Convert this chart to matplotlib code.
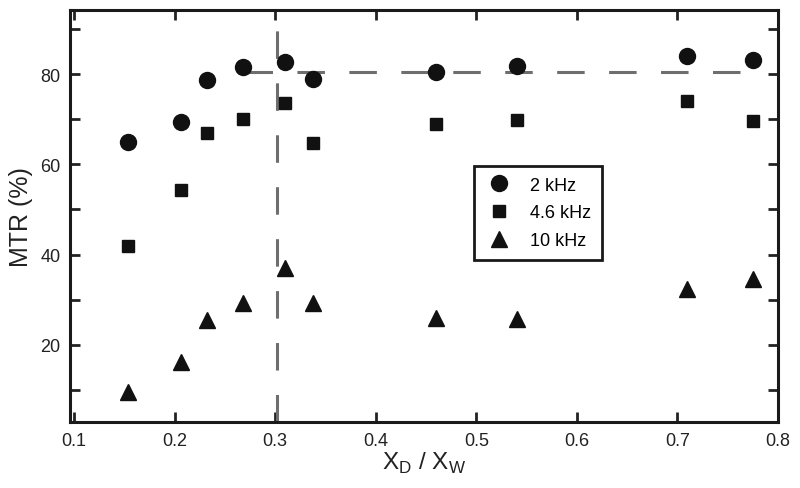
import matplotlib
matplotlib.use("Agg")
import matplotlib.pyplot as plt
from matplotlib.ticker import FixedLocator, FuncFormatter

plt.rcParams['font.family'] = ['Liberation Sans', 'DejaVu Sans']

x = [0.154, 0.206, 0.2325, 0.268, 0.310, 0.338, 0.4595, 0.540, 0.710, 0.7756]
mtr_2khz = [65.0, 69.3, 78.7, 81.5, 82.7, 78.8, 80.4, 81.8, 83.9, 83.2]
mtr_46khz = [41.9, 54.4, 67.0, 70.1, 73.6, 64.7, 68.9, 69.8, 74.0, 69.6]
mtr_10khz = [9.6, 16.3, 25.5, 29.2, 37.0, 29.2, 25.9, 25.7, 32.3, 34.5]
labels = ['2 kHz', '4.6 kHz', '10 kHz']
x_threshold = 0.302
mtr_plateau = 80.5
plateau_range = (0.27, 0.775)

fig = plt.figure(figsize=(8, 4.89), dpi=100)
ax = fig.add_axes([70/800, 1-423/489, (778-70)/800, (423-11)/489])

ax.plot(x, mtr_2khz, 'o', color='#111111', markersize=11.5, linestyle='none', label=labels[0], zorder=3)
ax.plot(x, mtr_46khz, 's', color='#111111', markersize=8, linestyle='none', label=labels[1], zorder=3)
ax.plot(x, mtr_10khz, '^', color='#111111', markersize=12, linestyle='none', label=labels[2], zorder=3)

dash = (0, (9, 8))
ax.axvline(x_threshold, color='#6e6e6e', lw=2.2, linestyle=dash, zorder=2)
ax.plot(plateau_range, [mtr_plateau, mtr_plateau], color='#6e6e6e', lw=2.2, linestyle=dash, zorder=2)

ax.set_xlim(0.096, 0.8)
ax.set_ylim(2.9, 94.2)
ax.xaxis.set_major_locator(FixedLocator([0.1, 0.2, 0.3, 0.4, 0.5, 0.6, 0.7, 0.8]))
ax.yaxis.set_major_locator(FixedLocator([10, 20, 30, 40, 50, 60, 70, 80, 90]))
ax.yaxis.set_major_formatter(FuncFormatter(lambda v, p: f"{int(v)}" if int(round(v)) in (20, 40, 60, 80) else ""))
ax.xaxis.set_major_formatter(FuncFormatter(lambda v, p: f"{v:.1f}"))

ax.tick_params(direction='in', length=7, width=2, top=True, right=True, labelsize=13, colors='#222222', pad=7)
for s in ax.spines.values():
    s.set_linewidth(2.2)
    s.set_color('#1a1a1a')

ax.set_ylabel('MTR (%)', fontsize=18, color='#222222', labelpad=5)
ax.set_xlabel('X$_\\mathregular{D}$ / X$_\\mathregular{W}$', fontsize=17.5, color='#222222', labelpad=1)

leg = ax.legend(loc='upper left', bbox_to_anchor=((474-70)/708, 1-(166.7-11)/412), fontsize=13,
                frameon=True, fancybox=False, edgecolor='#1a1a1a', framealpha=1, handletextpad=0.9,
                borderpad=0.6, labelspacing=0.6, handlelength=1.6, borderaxespad=0)
leg.get_frame().set_linewidth(2)

fig.savefig('out.png', dpi=100)
